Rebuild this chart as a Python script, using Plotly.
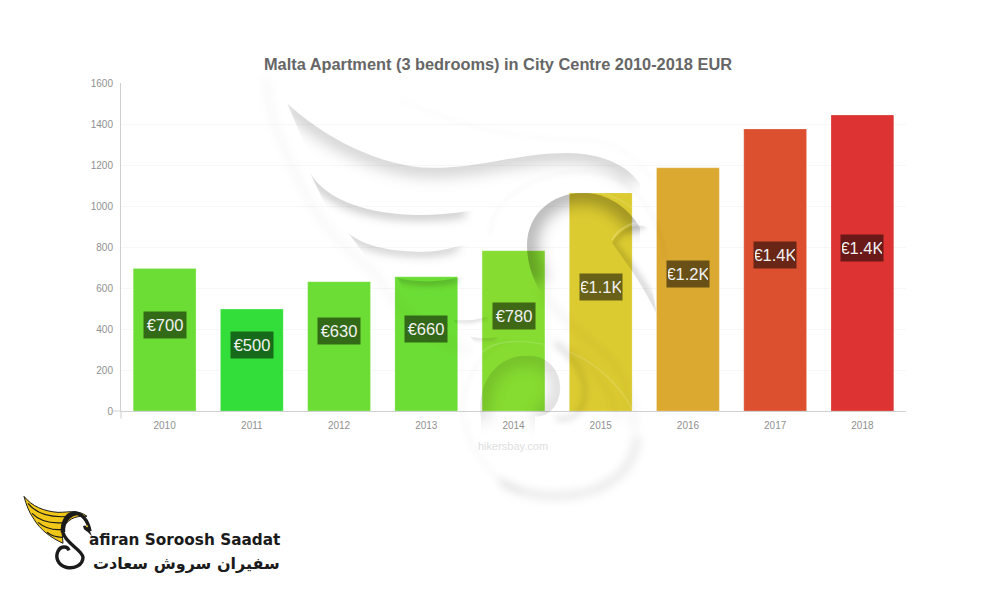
import base64
import plotly.graph_objects as go

years = ["2010", "2011", "2012", "2013", "2014", "2015", "2016", "2017", "2018"]
prices = [695, 497, 631, 655, 782, 1064, 1186, 1376, 1444]
labels = ["€700", "€500", "€630", "€660", "€780", "€1.1K", "€1.2K", "€1.4K", "€1.4K"]
colors = ["#6cdd34", "#33dd3a", "#6cdd34", "#6cdd34", "#86dc30", "#dccb30", "#dba830", "#dc5030", "#dd3333"]

W, H = 1000, 600
L, R, T, B = 121, 906, 83, 411.5
PW, PH = R - L, B - T


def shadow(region, edge, alpha=0.3, blur=5, width=9, idx=[0]):
    idx[0] += 1
    i = idx[0]
    return (f'<clipPath id="c{i}"><path d="{region}"/></clipPath>'
            f'<g clip-path="url(#c{i})">'
            f'<path d="{edge}" fill="none" stroke="rgba(0,0,0,{alpha})" stroke-width="{width}" '
            f'filter="url(#b{blur})"/></g>')


def soft(d, alpha=0.10, width=3, blur=3):
    return f'<path d="{d}" fill="none" stroke="rgba(0,0,0,{alpha})" stroke-width="{width}" filter="url(#b{blur})"/>'


def glow(d, alpha=0.16, width=1.4):
    return f'<path d="{d}" fill="none" stroke="rgba(255,255,255,{alpha})" stroke-width="{width}"/>'


parts = []
for b in (2, 3, 5, 8, 12):
    parts.append(f'<filter id="b{b}" filterUnits="userSpaceOnUse" x="0" y="0" width="{W}" height="{H}"><feGaussianBlur stdDeviation="{b}"/></filter>')

# wing feathers
e1 = "M287,103 C320,135 380,168 433,168 C480,168 520,153 567,153 C600,153 625,165 636,180"
parts.append(shadow("M287,103 C320,135 380,168 433,168 C480,168 520,153 567,153 C600,153 628,165 640,184 L640,240 L400,240 L320,180 Z", e1, 0.2, 8, 16))
e2 = "M310,173 C325,198 360,213 410,215 C430,216 450,214 465,212"
parts.append(shadow("M310,173 C325,198 360,213 410,215 C440,216 465,213 500,205 L500,245 L380,245 L330,215 Z", e2, 0.2, 5, 11))
e3 = "M348,233 C365,248 395,252 423,252 C438,252 450,249 458,246"
parts.append(shadow("M348,233 C365,248 395,252 423,252 C445,252 465,245 490,236 L490,275 L380,275 Z", e3, 0.2, 5, 9))
e4 = "M397,278 C415,283 438,284 458,279"
parts.append(shadow("M397,278 C415,283 445,284 480,272 L480,300 L410,300 Z", e4, 0.2, 3, 7))
e5 = "M453,320 C470,322 478,320 486,317"
parts.append(shadow("M453,320 C470,322 480,320 500,312 L500,338 L462,332 Z", e5, 0.16, 2, 4))
e6 = "M470,337 C482,340 490,339 496,338"
parts.append(shadow("M470,337 C482,340 492,339 510,335 L510,352 L478,348 Z", e6, 0.15, 2, 4))
# outer wing edge
parts.append(soft("M266,78 C268,110 278,135 285,150 C300,190 318,215 325,225 C345,250 370,270 375,272 C395,310 430,340 470,352", 0.05, 4, 5))

# S: upper counter
e7 = "M640,228 C628,207 606,193 583,193 C552,193 527,215 527,245 C527,262 532,272 537,283"
parts.append(shadow("M640,228 C628,207 606,193 583,193 C552,193 527,215 527,245 C527,290 560,320 590,340 L640,300 Z", e7, 0.3, 8, 20))
parts.append(soft("M540,290 C560,320 590,340 603,353 C625,372 633,400 634,430", 0.06, 5, 5))
# S: lower counter spiral
e8 = "M481,420 C476,385 495,356 528,356 C548,356 562,372 560,392 C558,410 545,418 535,417"
parts.append(shadow(e8 + " L535,445 L481,445 Z", e8, 0.14, 8, 18))
parts.append(soft("M550,340 C585,355 612,385 618,420", 0.07, 4, 5))
parts.append(soft("M556,345 C578,362 590,380 583,405 C578,418 565,422 555,418", 0.13, 4, 3))
# S: bottom bowl
parts.append(soft("M637,437 C636,462 620,482 590,492 C560,500 525,498 500,482", 0.11, 6, 5))
parts.append(soft("M464,420 C470,455 495,482 520,492", 0.04, 3, 3))
parts.append(soft("M463,418 C462,385 475,355 510,340", 0.04, 2, 2))
parts.append(soft("M490,235 C492,195 540,170 590,172 C630,175 660,210 665,260", 0.04, 2, 2))
parts.append(soft("M400,100 C470,130 520,140 590,140 C620,145 640,160 652,180", 0.025, 2, 2))
# head
e10 = "M645,226 C628,226 618,234 612,243 C625,260 640,275 657,312"
parts.append(shadow("M612,243 C620,228 638,222 648,228 C646,240 647,262 657,315 C640,280 625,262 612,243 Z", e10, 0.18, 3, 6))
parts.append(glow("M612,240 C620,226 636,220 646,224", 0.25))
parts.append(glow("M540,204 C565,188 605,186 632,208 C650,225 656,250 650,268", 0.15))
parts.append(glow("M482,353 C500,335 550,340 585,360 C625,385 640,420 635,430", 0.15))

# logo
parts.append('<path d="M24,497 C32,507 44,512 58,513 C70,513 78,510 87,517 C75,516 66,520 62,532 L63,544 C50,538 40,530 34,520 C29,513 26,505 24,497 Z" fill="#f2c818" stroke="#1b1b1b" stroke-width="1"/>')
for d in ("M28,504 C36,514 48,519 70,517", "M32,514 C40,522 50,525 66,523", "M38,523 C45,529 54,531 63,530", "M47,533 C52,537 58,538 62,538"):
    parts.append(f'<path d="{d}" fill="none" stroke="#1b1b1b" stroke-width="1.2"/>')
parts.append('<path d="M90,532 C88,521 82,513 73,514 C65,515 62,525 63,533 C65,544 82,550 83,558 C83,566 74,570 66,568 C58,566 55,558 58,552 C60,547 67,546 69,551" fill="none" stroke="#1b1b1b" stroke-width="3.4"/>')
parts.append('<path d="M63,533 C62,524 68,515 76,514" fill="none" stroke="#1b1b1b" stroke-width="4.5"/>')
parts.append('<path d="M90,532 L92,537 L88,533 L84,530 L83,527 C85,525 88,527 90,532 Z" fill="#1b1b1b"/>')
parts.append('<circle cx="87" cy="527" r="1" fill="#f2c818"/>')

svg = f'<svg xmlns="http://www.w3.org/2000/svg" width="{W}" height="{H}" viewBox="0 0 {W} {H}">' + "".join(parts) + "</svg>"
uri = "data:image/svg+xml;base64," + base64.b64encode(svg.encode()).decode()

fig = go.Figure(go.Bar(
    x=years, y=prices,
    marker=dict(color=colors, line=dict(color="rgba(255,255,255,0.22)", width=1)),
    width=0.72, hoverinfo="skip",
))


def px(x):
    return (x - L) / PW


def py(y):
    return (B - y) / PH


annotations = [
    dict(x=i, y=v / 2, yshift=15, text=t, showarrow=False, xref="x", yref="y",
         xanchor="center", yanchor="middle",
         bgcolor="rgba(0,0,0,0.52)", width=40, height=24, align="center", valign="middle",
         font=dict(family="Liberation Sans", size=16.5, color="#f2f2f2"))
    for i, (v, t) in enumerate(zip(prices, labels))
]
annotations += [
    dict(xref="paper", yref="paper", x=px(513), y=py(447), xanchor="center", yanchor="middle",
         text="hikersbay.com", showarrow=False,
         font=dict(family="Liberation Sans", size=11, color="#dedede")),
    dict(xref="paper", yref="paper", x=px(282), y=py(541), xanchor="right", yanchor="middle",
         text="<b>afiran Soroosh Saadat</b>", showarrow=False,
         font=dict(family="DejaVu Sans", size=15.3, color="#1b1b1b")),
    dict(xref="paper", yref="paper", x=px(282), y=py(564), xanchor="right", yanchor="middle",
         text="<b>سفیران سروش سعادت</b>", showarrow=False,
         font=dict(family="DejaVu Sans", size=16, color="#1b1b1b")),
]

line = dict(color="#d0d0d0", width=1)
fig.update_layout(
    width=W, height=H, autosize=False,
    margin=dict(l=L, r=W - R, t=T, b=H - B, pad=0),
    paper_bgcolor="white", plot_bgcolor="white",
    showlegend=False, bargap=0.28,
    title=dict(text="<b>Malta Apartment (3 bedrooms) in City Centre 2010-2018 EUR</b>",
               x=498 / W, xanchor="center", y=1 - 64 / H, yanchor="middle",
               font=dict(family="Liberation Sans", size=16.35, color="#666666")),
    xaxis=dict(type="category", showgrid=False, zeroline=False, showline=True, linecolor="#d0d0d0",
               ticks="", ticklen=0, ticklabelstandoff=5,
               tickfont=dict(family="Liberation Sans", size=10, color="#909090"),
               range=[-0.5, 8.5], fixedrange=True),
    yaxis=dict(range=[0, 1600], tick0=0, dtick=200, showgrid=True, gridcolor="#f7f7f7", gridwidth=1,
               zeroline=False, showline=True, linecolor="#d0d0d0", ticks="", ticklen=0, ticklabelstandoff=5,
               tickfont=dict(family="Liberation Sans", size=10, color="#909090"), fixedrange=True),
    annotations=annotations,
    images=[dict(source=uri, xref="paper", yref="paper", x=px(0), y=py(0), sizex=W / PW, sizey=H / PH,
                 xanchor="left", yanchor="top", sizing="stretch", layer="above", opacity=1)],
    shapes=[
        dict(type="line", xref="paper", yref="paper", x0=px(113), x1=0, y0=0, y1=0, line=line),
        dict(type="line", xref="paper", yref="paper", x0=0, x1=0, y0=py(419), y1=0, line=line),
    ],
)

fig.write_html("out.html", config={"displayModeBar": False},
               post_script="document.body.style.margin='0';")
